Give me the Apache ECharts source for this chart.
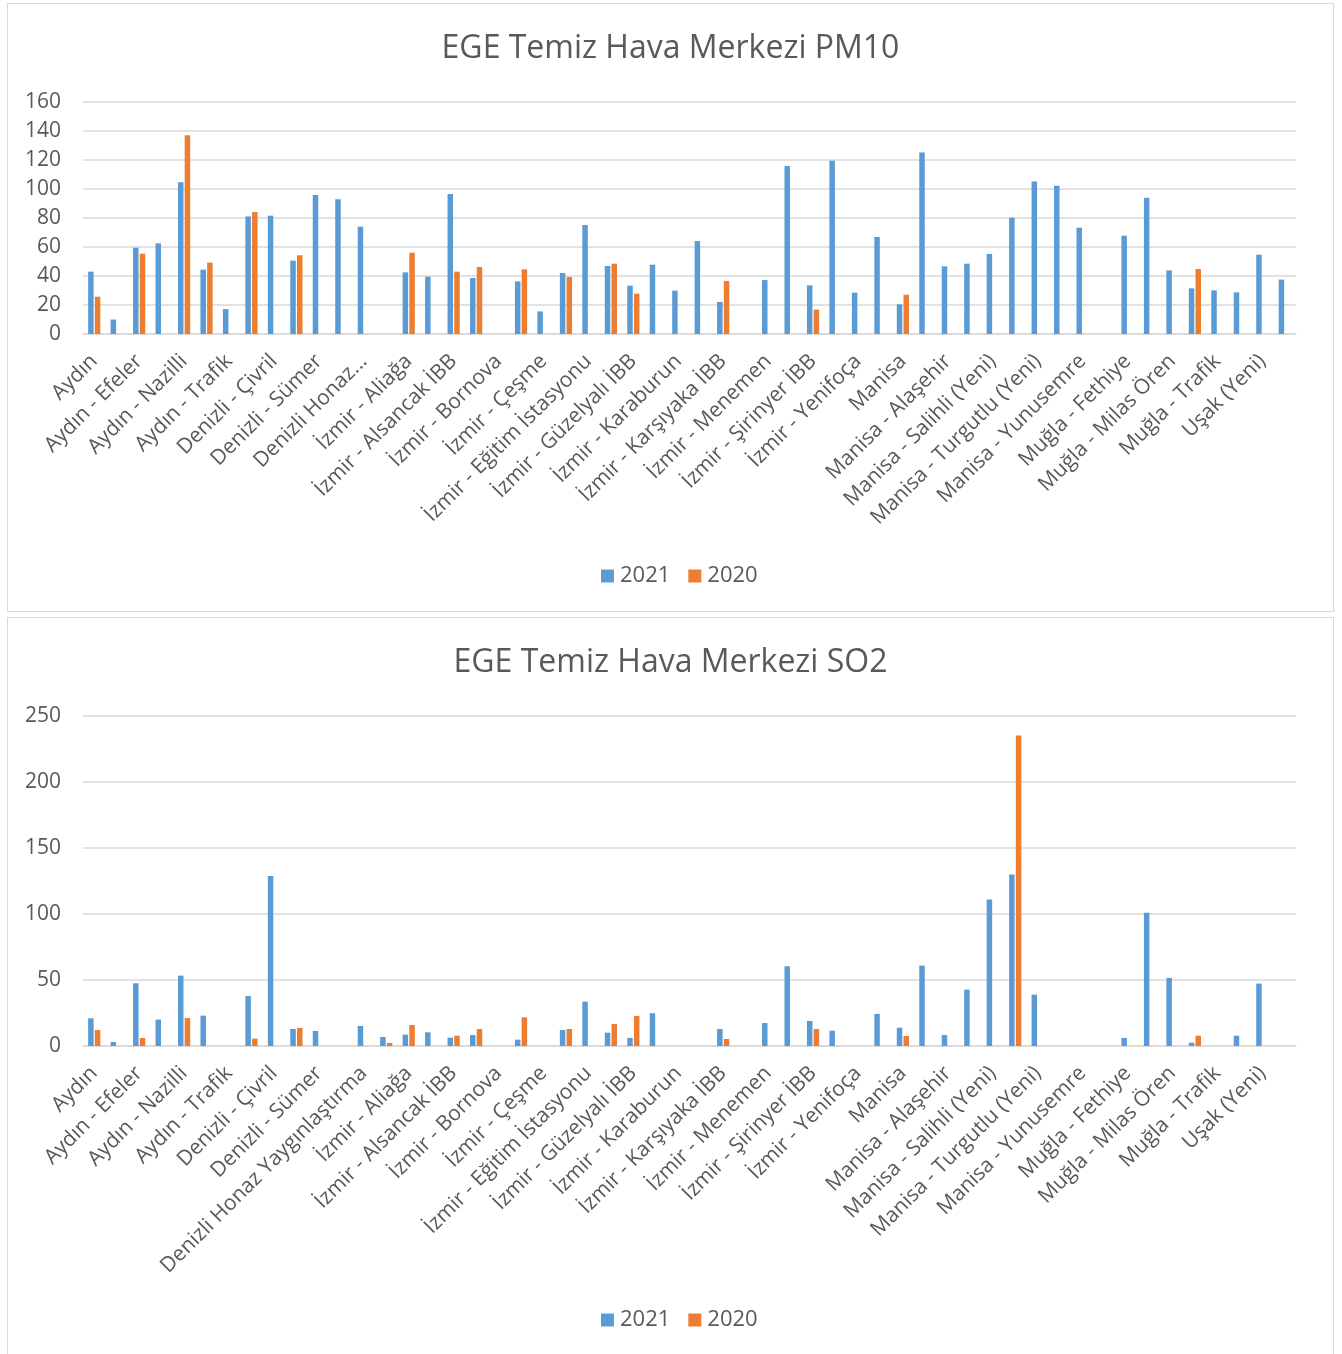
<!DOCTYPE html>
<html>
<head>
<meta charset="utf-8">
<script src="https://cdn.jsdelivr.net/npm/echarts@6/dist/echarts.min.js"></script>
<style>
html,body{margin:0;padding:0;background:#fff;}
.panel{position:absolute;border:1.5px solid #d9d9d9;box-sizing:border-box;background:#fff;}
#c1{left:7px;top:3px;width:1327px;height:609px;}
#c2{left:7px;top:617px;width:1327px;height:740px;}
</style>
</head>
<body>
<div id="c1" class="panel"></div>
<div id="c2" class="panel"></div>
<script>
// Station categories (odd ones are not labelled on the axis)
const categories = [
  'Aydın','Aydın - Didim','Aydın - Efeler','Aydın - Kuşadası','Aydın - Nazilli','Aydın - Söke',
  'Aydın - Trafik','Denizli','Denizli - Çivril','Denizli - Merkezefendi','Denizli - Sümer','Denizli - Trafik',
  'Denizli Honaz Yaygınlaştırma','İzmir','İzmir - Aliağa','İzmir - Aliağa (Yeni)','İzmir - Alsancak İBB','İzmir - Bayraklı İBB',
  'İzmir - Bornova','İzmir - Buca','İzmir - Çeşme','İzmir - Çiğli İBB','İzmir - Eğitim İstasyonu','İzmir - Gaziemir İBB',
  'İzmir - Güzelyalı İBB','İzmir - Karabağlar İBB','İzmir - Karaburun','İzmir - Karşıyaka','İzmir - Karşıyaka İBB','İzmir - Kemalpaşa',
  'İzmir - Menemen','İzmir - Sarnıç','İzmir - Şirinyer İBB','İzmir - Torbalı','İzmir - Yenifoça','Kütahya',
  'Manisa','Manisa - Akhisar','Manisa - Alaşehir','Manisa - Salihli','Manisa - Salihli (Yeni)','Manisa - Soma',
  'Manisa - Turgutlu (Yeni)','Manisa - Uncubozköy','Manisa - Yunusemre','Muğla - Bodrum','Muğla - Fethiye','Muğla - Milas',
  'Muğla - Milas Ören','Muğla - Ortaca','Muğla - Trafik','Muğla - Yatağan','Uşak (Yeni)','Uşak - Trafik'
];

const seriesNames = ['2021', '2020'];

const pm10_2021 = [43,10,59.5,62.5,104.6,44.4,17.2,81.1,81.6,50.6,95.9,92.9,74,null,42.5,39.5,96.6,38.6,null,36.3,15.6,42.1,75.2,46.9,33.3,47.8,29.9,64.1,22.1,null,37.2,115.9,33.6,119.5,28.5,66.9,20.5,125.1,46.7,48.5,55.2,80.2,105.1,102.3,73.3,null,67.8,94,43.9,31.5,30.1,28.7,54.7,37.5];
const pm10_2020 = [25.7,null,55.4,null,137,49.2,null,84.1,null,54.3,null,null,null,null,56.1,null,43,46.2,null,44.6,null,39.3,null,48.5,27.8,null,null,null,36.6,null,null,null,16.8,null,null,null,27.1,null,null,null,null,null,null,null,null,null,null,null,null,44.8,null,null,null,null];

const so2_2021 = [21,3,47.5,20,53.3,23,null,37.9,128.7,12.9,11.4,null,15.2,6.8,8.6,10.4,6.3,8.3,null,4.8,null,12.1,33.6,10.1,6.1,24.8,null,null,12.9,null,17.4,60.4,19,11.6,null,24.3,13.9,60.9,8.3,42.7,111,129.9,38.9,null,null,null,6.1,100.9,51.6,2.5,null,7.8,47.3,null];
const so2_2020 = [12.1,null,6.1,null,21.2,null,null,5.6,null,13.7,null,null,null,2.3,15.9,null,7.8,12.9,null,21.7,null,12.9,null,16.7,22.8,null,null,null,5.3,null,null,null,12.9,null,null,null,7.6,null,null,null,null,235.3,null,null,null,null,null,null,null,7.8,null,null,null,null];

const pm10Ticks = {min:0, max:160, interval:20};
const so2Ticks = {min:0, max:250, interval:50};

const FONT = '"Open Sans", sans-serif';
const TXT = '#595959';
const GRIDC = '#d9d9d9';
const COLORS = ['#5b9bd5', '#ed7d31'];

function makeOption(title, d21, d20, ticks, grid, legendTop, titleTop, shortLabels) {
  return {
    animation: false,
    textStyle: {fontFamily: FONT},
    color: COLORS,
    title: {
      text: title, left: 'center', top: titleTop,
      textStyle: {fontFamily: FONT, fontSize: 32, fontWeight: 'normal', color: TXT}
    },
    legend: {
      data: seriesNames, left: 588, top: legendTop,
      icon: 'rect', itemWidth: 13, itemHeight: 13, itemGap: 18,
      textStyle: {fontFamily: FONT, fontSize: 22, color: TXT, padding: [0,0,0,1]}
    },
    grid: grid,
    xAxis: {
      type: 'category', data: categories,
      axisLine: {lineStyle: {color: GRIDC, width: 1.5}},
      axisTick: {show: false},
      axisLabel: {
        interval: 1, rotate: 45, fontFamily: FONT, fontSize: 21, color: TXT, margin: 24,
        formatter: function (v) {
          if (shortLabels && v.length > 24) return v.slice(0, 13) + '...';
          return v;
        }
      }
    },
    yAxis: {
      type: 'value', min: ticks.min, max: ticks.max, interval: ticks.interval,
      axisLine: {show: false}, axisTick: {show: false},
      axisLabel: {fontFamily: FONT, fontSize: 21, color: TXT, margin: 22},
      splitLine: {lineStyle: {color: GRIDC, width: 1.5}}
    },
    series: [
      {name: seriesNames[0], type: 'bar', data: d21, barWidth: 5.5, barGap: '22%'},
      {name: seriesNames[1], type: 'bar', data: d20, barWidth: 5.5, barGap: '22%'}
    ]
  };
}

const ch1 = echarts.init(document.getElementById('c1'), null, {renderer: 'canvas'});
ch1.setOption(makeOption('EGE Temiz Hava Merkezi PM10', pm10_2021, pm10_2020, pm10Ticks,
  {left: 75, right: 37, top: 98, height: 232, containLabel: false}, 556, 24, true));

const ch2 = echarts.init(document.getElementById('c2'), null, {renderer: 'canvas'});
ch2.setOption(makeOption('EGE Temiz Hava Merkezi SO2', so2_2021, so2_2020, so2Ticks,
  {left: 75, right: 37, top: 98, height: 330, containLabel: false}, 686, 24, false));
</script>
</body>
</html>
